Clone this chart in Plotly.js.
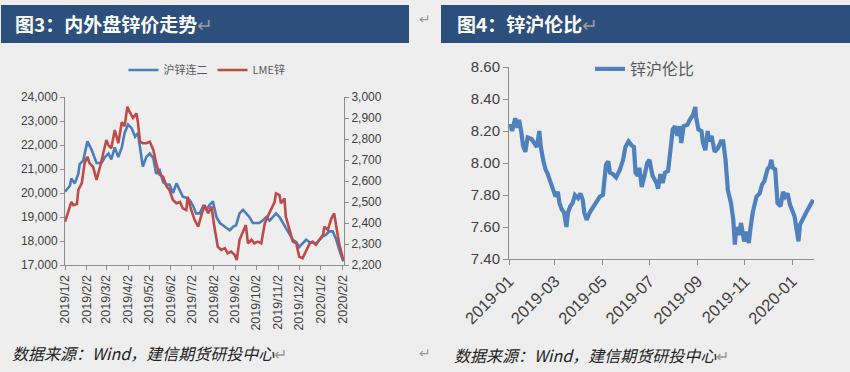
<!DOCTYPE html>
<html>
<head>
<meta charset="utf-8">
<script src="https://cdn.plot.ly/plotly-3.0.1.min.js"></script>
<style>
html,body{margin:0;padding:0;background:#eeeeee;}
#chart{width:850px;height:372px;}
</style>
</head>
<body>
<div id="chart"></div>
<script>
// ---- Left chart: 沪锌连二 (left axis, CNY) ----
var shDates = ['2019-01-02','2019-01-09','2019-01-11','2019-01-16','2019-01-21','2019-01-23','2019-01-28','2019-01-30','2019-02-03','2019-02-09','2019-02-16','2019-02-23','2019-02-28','2019-03-05','2019-03-09','2019-03-14','2019-03-19','2019-03-24','2019-03-28','2019-04-02','2019-04-07','2019-04-12','2019-04-16','2019-04-21','2019-04-23','2019-04-28','2019-05-03','2019-05-08','2019-05-12','2019-05-17','2019-05-22','2019-05-27','2019-05-31','2019-06-05','2019-06-10','2019-06-15','2019-06-19','2019-06-24','2019-06-29','2019-07-04','2019-07-08','2019-07-13','2019-07-18','2019-07-23','2019-07-27','2019-08-01','2019-08-06','2019-08-11','2019-08-15','2019-08-20','2019-08-25','2019-08-30','2019-09-03','2019-09-08','2019-09-13','2019-09-17','2019-09-22','2019-09-27','2019-10-02','2019-10-06','2019-10-11','2019-10-16','2019-10-21','2019-10-25','2019-10-30','2019-11-04','2019-11-09','2019-11-13','2019-11-18','2019-11-23','2019-11-28','2019-12-02','2019-12-07','2019-12-12','2019-12-17','2019-12-21','2019-12-26','2019-12-31','2020-01-05','2020-01-09','2020-01-14','2020-01-19','2020-01-24','2020-01-28','2020-02-03'];
var shZinc = [20050,20300,20600,20400,20800,21200,21350,21650,22150,21800,21250,21250,21500,21650,21400,21900,21500,21900,22500,22850,22700,22350,22500,21500,21100,21500,21650,21450,20800,20950,20450,20350,20350,20000,20400,20100,19850,19800,19700,19450,19150,19150,19450,19300,19500,19650,19000,18750,18650,18550,18450,18600,18650,19150,19300,19150,19000,18750,18750,18750,18850,19000,18850,19000,19150,19000,18750,18550,18250,18050,17950,17750,17900,18050,17950,17950,17900,18050,18200,18250,18400,18400,18050,17650,17150];

// ---- Left chart: LME锌 (right axis, USD) ----
var lmeDates = ['2019-01-02','2019-01-04','2019-01-09','2019-01-11','2019-01-14','2019-01-19','2019-01-21','2019-01-26','2019-01-30','2019-02-03','2019-02-06','2019-02-11','2019-02-16','2019-02-21','2019-02-25','2019-03-02','2019-03-05','2019-03-09','2019-03-14','2019-03-19','2019-03-24','2019-03-28','2019-04-01','2019-04-04','2019-04-09','2019-04-14','2019-04-16','2019-04-19','2019-04-23','2019-04-28','2019-05-03','2019-05-08','2019-05-12','2019-05-17','2019-05-22','2019-05-27','2019-05-31','2019-06-05','2019-06-10','2019-06-15','2019-06-19','2019-06-24','2019-06-26','2019-07-01','2019-07-06','2019-07-11','2019-07-15','2019-07-20','2019-07-25','2019-07-30','2019-08-03','2019-08-08','2019-08-13','2019-08-18','2019-08-22','2019-08-27','2019-09-01','2019-09-04','2019-09-08','2019-09-13','2019-09-17','2019-09-20','2019-09-25','2019-09-29','2019-10-04','2019-10-09','2019-10-14','2019-10-18','2019-10-23','2019-10-28','2019-10-30','2019-11-04','2019-11-06','2019-11-11','2019-11-13','2019-11-18','2019-11-23','2019-11-28','2019-12-02','2019-12-07','2019-12-12','2019-12-17','2019-12-21','2019-12-26','2019-12-31','2020-01-05','2020-01-07','2020-01-12','2020-01-17','2020-01-21','2020-01-24','2020-01-28','2020-02-03'];
var lmeZinc = [2406,2430,2478,2500,2485,2490,2557,2590,2685,2716,2685,2668,2605,2668,2730,2795,2770,2756,2843,2780,2880,2860,2954,2930,2900,2922,2880,2787,2780,2780,2787,2748,2685,2630,2620,2573,2557,2510,2494,2500,2470,2462,2525,2462,2414,2383,2430,2486,2446,2478,2383,2287,2272,2280,2256,2264,2248,2224,2320,2359,2390,2303,2320,2303,2311,2303,2398,2430,2462,2500,2541,2533,2494,2517,2430,2367,2311,2303,2240,2232,2272,2303,2311,2296,2320,2343,2383,2367,2422,2446,2383,2303,2224];

var leftTickVals = ['2019-01-02','2019-02-02','2019-03-02','2019-04-02','2019-05-02','2019-06-02','2019-07-02','2019-08-02','2019-09-02','2019-10-02','2019-11-02','2019-12-02','2020-01-02','2020-02-02'];
var leftTickText = ['2019/1/2','2019/2/2','2019/3/2','2019/4/2','2019/5/2','2019/6/2','2019/7/2','2019/8/2','2019/9/2','2019/10/2','2019/11/2','2019/12/2','2020/1/2','2020/2/2'];

// ---- Right chart: 锌沪伦比 ----
var ratioDates = ['2019-01-02','2019-01-03','2019-01-05','2019-01-07','2019-01-09','2019-01-12','2019-01-14','2019-01-17','2019-01-19','2019-01-22','2019-01-25','2019-01-30','2019-02-03','2019-02-06','2019-02-09','2019-02-11','2019-02-14','2019-02-17','2019-02-20','2019-02-24','2019-02-27','2019-03-02','2019-03-05','2019-03-07','2019-03-10','2019-03-13','2019-03-16','2019-03-18','2019-03-21','2019-03-24','2019-03-27','2019-03-31','2019-04-03','2019-04-06','2019-04-08','2019-04-11','2019-04-15','2019-04-19','2019-04-23','2019-04-28','2019-05-02','2019-05-04','2019-05-06','2019-05-09','2019-05-11','2019-05-15','2019-05-19','2019-05-24','2019-05-28','2019-05-31','2019-06-04','2019-06-08','2019-06-11','2019-06-13','2019-06-16','2019-06-18','2019-06-21','2019-06-25','2019-06-28','2019-07-01','2019-07-05','2019-07-10','2019-07-12','2019-07-15','2019-07-18','2019-07-21','2019-07-25','2019-07-28','2019-07-31','2019-08-03','2019-08-06','2019-08-09','2019-08-11','2019-08-14','2019-08-19','2019-08-22','2019-08-26','2019-08-29','2019-08-30','2019-09-02','2019-09-06','2019-09-08','2019-09-11','2019-09-14','2019-09-16','2019-09-19','2019-09-23','2019-09-27','2019-10-01','2019-10-04','2019-10-07','2019-10-10','2019-10-14','2019-10-17','2019-10-19','2019-10-21','2019-10-24','2019-10-27','2019-10-31','2019-11-03','2019-11-06','2019-11-08','2019-11-11','2019-11-16','2019-11-20','2019-11-23','2019-11-26','2019-11-30','2019-12-03','2019-12-05','2019-12-07','2019-12-10','2019-12-13','2019-12-17','2019-12-20','2019-12-23','2019-12-26','2019-12-29','2020-01-01','2020-01-04','2020-01-07','2020-01-09','2020-01-11','2020-01-17','2020-01-21','2020-01-28'];
var ratio = [8.22,8.24,8.20,8.26,8.28,8.22,8.27,8.19,8.11,8.07,8.16,8.15,8.12,8.10,8.20,8.10,8.02,7.96,7.93,7.875,7.85,7.79,7.82,7.75,7.71,7.69,7.60,7.69,7.73,7.75,7.80,7.78,7.81,7.77,7.69,7.645,7.69,7.72,7.75,7.79,7.80,7.90,7.99,8.01,7.94,7.93,7.91,7.96,8.02,8.10,8.135,8.11,8.10,7.94,7.92,7.97,7.85,7.93,8.00,8.02,7.92,7.875,7.84,7.93,7.875,7.94,7.95,8.08,8.21,8.23,8.17,8.23,8.125,8.23,8.24,8.27,8.30,8.35,8.29,8.21,8.20,8.125,8.08,8.20,8.135,8.17,8.07,8.09,8.135,8.135,8.02,7.83,7.75,7.645,7.49,7.60,7.55,7.625,7.51,7.57,7.50,7.585,7.69,7.79,7.81,7.865,7.885,7.96,7.98,8.02,7.97,7.96,7.75,7.73,7.82,7.79,7.81,7.74,7.70,7.665,7.57,7.51,7.615,7.665,7.71,7.77];

var BLUE = '#4a7ebb', RED = '#be4b48', AX = '#8c8c8c', TXT = '#404040';
var W = 850, H = 372;
function px(x){return x/W;} function py(y){return 1 - y/H;}

var traces = [
  {x: shDates, y: shZinc, type:'scatter', mode:'lines', name:'沪锌连二', xaxis:'x', yaxis:'y',
   line:{color:BLUE, width:2.6}, legend:'legend'},
  {x: lmeDates, y: lmeZinc, type:'scatter', mode:'lines', name:'LME锌', xaxis:'x', yaxis:'y2',
   line:{color:RED, width:2.6}, legend:'legend'},
  {x: ratioDates, y: ratio, type:'scatter', mode:'lines', name:'锌沪伦比', xaxis:'x2', yaxis:'y3',
   line:{color:'#4f81bd', width:4.2}, legend:'legend2'}
];

var tickFont = {family:'Liberation Sans, Arial, sans-serif', color:TXT};

var layout = {
  width: W, height: H,
  margin:{l:0,r:0,t:0,b:0},
  paper_bgcolor:'#eeeeee', plot_bgcolor:'#eeeeee',
  showlegend:true,
  xaxis:{domain:[px(65),px(344)], type:'date', range:['2019-01-02','2020-02-04'],
    tickvals:leftTickVals, ticktext:leftTickText, tickangle:-90,
    tickfont:Object.assign({size:12.5},tickFont), ticks:'outside', ticklen:4, tickcolor:AX,
    showline:true, linecolor:AX, linewidth:1, showgrid:false, zeroline:false, anchor:'y', fixedrange:true},
  yaxis:{domain:[py(265),py(97)], range:[17000,24000], dtick:1000, tickformat:',d',
    tickfont:Object.assign({size:12},tickFont), ticks:'outside', ticklen:4, tickcolor:AX,
    showline:true, linecolor:AX, linewidth:1, showgrid:false, zeroline:false, anchor:'x'},
  yaxis2:{overlaying:'y', side:'right', range:[2200,3000], dtick:100, tickformat:',d',
    tickfont:Object.assign({size:12},tickFont), ticks:'outside', ticklen:4, tickcolor:AX,
    showline:true, linecolor:AX, linewidth:1, showgrid:false, zeroline:false, anchor:'x'},
  xaxis2:{domain:[px(509),px(814)], type:'date', range:['2019-01-01','2020-01-29'],
    tickvals:['2019-01-01','2019-03-01','2019-05-01','2019-07-01','2019-09-01','2019-11-01','2020-01-01'],
    ticktext:['2019-01','2019-03','2019-05','2019-07','2019-09','2019-11','2020-01'],
    tickangle:-45, tickfont:Object.assign({size:16.5},tickFont), ticks:'outside', ticklen:5, tickcolor:AX,
    showline:true, linecolor:AX, linewidth:1, showgrid:false, zeroline:false, anchor:'y3'},
  yaxis3:{domain:[py(259),py(67)], range:[7.4,8.6], dtick:0.2, tickformat:'.2f',
    tickfont:Object.assign({size:15},tickFont), ticks:'outside', ticklen:5, tickcolor:AX,
    showline:true, linecolor:AX, linewidth:1, showgrid:false, zeroline:false, anchor:'x2'},
  legend:{orientation:'h', x:px(207), xanchor:'center', y:py(70), yanchor:'middle',
    font:{family:'Noto Sans CJK SC, Liberation Sans, sans-serif', size:11, color:'#595959'},
    bgcolor:'rgba(0,0,0,0)', itemwidth:30, tracegroupgap:0},
  legend2:{orientation:'h', x:px(645), xanchor:'center', y:py(69), yanchor:'middle',
    font:{family:'Noto Sans CJK SC, Liberation Sans, sans-serif', size:16, color:'#595959'},
    bgcolor:'rgba(0,0,0,0)', itemwidth:30},
  shapes:[
    {type:'rect', xref:'paper', yref:'paper', x0:px(1), x1:px(409), y0:py(43), y1:py(5),
     fillcolor:'#2c4f7c', line:{width:0}, layer:'below'},
    {type:'rect', xref:'paper', yref:'paper', x0:px(441), x1:px(850), y0:py(43), y1:py(5),
     fillcolor:'#2c4f7c', line:{width:0}, layer:'below'}
  ],
  annotations:[
    {xref:'paper', yref:'paper', x:px(13), y:py(24), xanchor:'left', yanchor:'middle', showarrow:false,
     text:'<b>图3：内外盘锌价走势</b><span style="color:#9a9a9a">↵</span>',
     font:{family:'Noto Sans CJK SC, sans-serif', size:19, color:'#ffffff'}},
    {xref:'paper', yref:'paper', x:px(455), y:py(24), xanchor:'left', yanchor:'middle', showarrow:false,
     text:'<b>图4：锌沪伦比</b><span style="color:#9a9a9a">↵</span>',
     font:{family:'Noto Sans CJK SC, sans-serif', size:19, color:'#ffffff'}},
    {xref:'paper', yref:'paper', x:px(10), y:py(353), xanchor:'left', yanchor:'middle', showarrow:false,
     text:'<i>数据来源：Wind，建信期货研投中心</i><span style="color:#9a9a9a">↵</span>',
     font:{family:'Noto Sans CJK SC, sans-serif', size:16, color:'#222222'}},
    {xref:'paper', yref:'paper', x:px(452), y:py(355), xanchor:'left', yanchor:'middle', showarrow:false,
     text:'<i>数据来源：Wind，建信期货研投中心</i><span style="color:#9a9a9a">↵</span>',
     font:{family:'Noto Sans CJK SC, sans-serif', size:16, color:'#222222'}},
    {xref:'paper', yref:'paper', x:px(425), y:py(19), xanchor:'center', yanchor:'middle', showarrow:false,
     text:'↵', font:{family:'DejaVu Sans', size:14, color:'#9a9a9a'}},
    {xref:'paper', yref:'paper', x:px(425), y:py(353), xanchor:'center', yanchor:'middle', showarrow:false,
     text:'↵', font:{family:'DejaVu Sans', size:14, color:'#9a9a9a'}}
  ]
};

Plotly.newPlot('chart', traces, layout, {staticPlot:true, displayModeBar:false});
</script>
</body>
</html>
